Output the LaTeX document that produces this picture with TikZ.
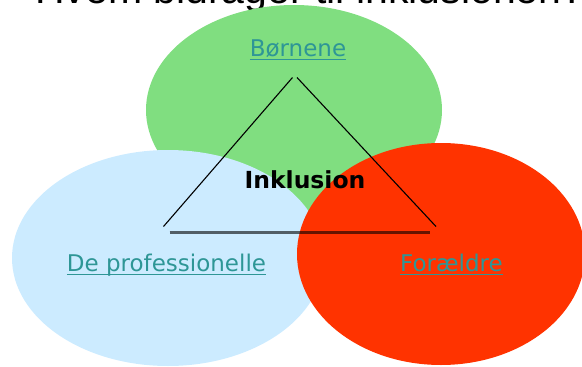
\documentclass[tikz,border=0pt]{standalone}
\usepackage{fontspec}
\setmainfont{DejaVu Sans}
\newfontfamily\titlefont{Liberation Sans}
\definecolor{gfill}{RGB}{128,222,128}
\definecolor{bfill}{RGB}{204,235,255}
\definecolor{rfill}{RGB}{255,51,0}
\definecolor{teal1}{RGB}{46,150,150}
\newcommand\myul[1]{\setbox0\hbox{#1}\rlap{\rule[-4pt]{\wd0}{1.4pt}}\box0}
\tikzset{
  lbl/.style={anchor=base, inner sep=0pt, text=teal1, font=\fontsize{23}{26}\selectfont},
  tri/.style={black, line width=1.1pt},
  base/.style={black, opacity=0.6, line width=2.3pt}
}
\begin{document}
\begin{tikzpicture}[x=1pt,y=-1pt]
\useasboundingbox (0,0) rectangle (582,367);
\clip (0,0) rectangle (582,367);
\node[anchor=base west, inner sep=0pt, font=\titlefont\fontsize{41}{45}\selectfont] (title) at (35,3.5) {Hvem bidrager til inklusionen?};
\fill[gfill] (294,110) ellipse [x radius=148, y radius=105];
\fill[bfill] (168,258) ellipse [x radius=156, y radius=108];
\fill[rfill] (441,254) ellipse [x radius=144, y radius=111];
\coordinate (tl1) at (163.5,226.5);
\coordinate (tl2) at (292.5,77.5);
\coordinate (tr1) at (297,77.5);
\coordinate (tr2) at (436,226.5);
\coordinate (b1) at (169.5,232.5);
\coordinate (b2) at (430,232.5);
\draw[tri] (tl1) -- (tl2);
\draw[tri] (tr1) -- (tr2);
\draw[base] (b1) -- (b2);
\node[lbl] (born) at (298,56) {\myul{Børnene}};
\node[lbl] (prof) at (166.5,271) {\myul{De professionelle}};
\node[lbl] (foral) at (451.5,271) {\myul{Forældre}};
\node[anchor=base, inner sep=0pt, font=\bfseries\fontsize{23.5}{26}\selectfont] (inkl) at (305,188) {Inklusion};
\end{tikzpicture}
\end{document}
